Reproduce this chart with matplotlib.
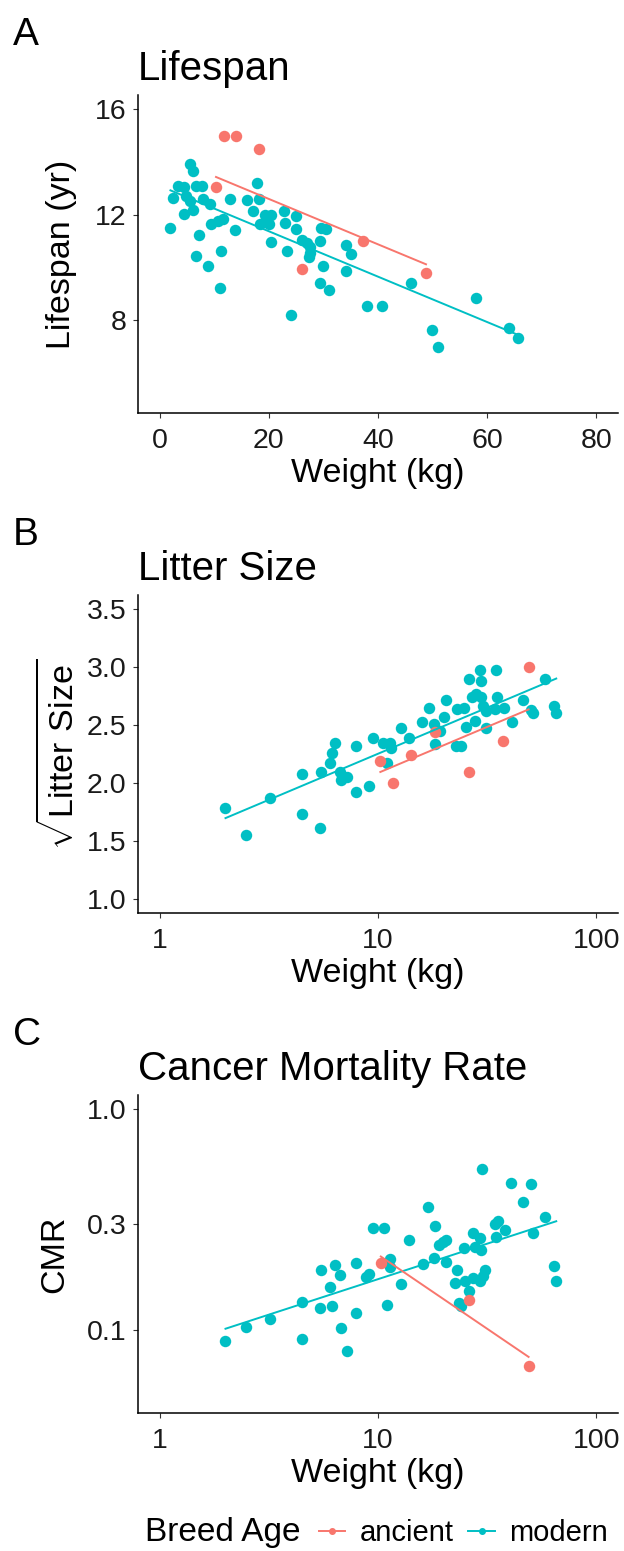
import numpy as np
import matplotlib
matplotlib.use('Agg')
import matplotlib.pyplot as plt
from matplotlib.lines import Line2D

plt.rcParams['font.family'] = ['Liberation Sans', 'DejaVu Sans']
plt.rcParams['mathtext.fontset'] = 'custom'
plt.rcParams['mathtext.rm'] = 'Liberation Sans'

RED = '#F8766D'
TEAL = '#00BFC4'

# --- A: lifespan vs weight ---
anc_wt = [10.3, 11.8, 14.0, 18.2, 26.0, 37.2, 48.8]
anc_life = [13.05, 15.0, 15.0, 14.5, 9.93, 11.0, 9.79]
mod_wt_a = [1.95, 2.44, 3.36, 4.4, 4.88, 4.4, 5.5, 6.04, 5.62, 6.1, 6.72, 7.82, 7.94,
            9.16, 7.14, 6.7, 8.8, 9.46, 10.7, 11.5, 11.0, 11.3, 12.8, 13.7, 15.9,
            17.1, 17.8, 18.2, 18.3, 19.3, 20.4, 20.0, 20.45, 22.7, 23.0, 23.3, 24.0,
            25.0, 25.0, 26.0, 26.9, 27.5, 27.6, 27.4, 29.4, 29.6, 30.5, 29.9, 29.4,
            31.0, 34.2, 35.1, 34.2, 38.0, 40.8, 46.0, 49.9, 51.0, 57.9, 64.0, 65.6]
mod_life = [11.49, 12.64, 13.08, 13.05, 12.7, 12.04, 13.94, 13.64, 12.5, 12.19, 13.08,
            13.08, 12.6, 12.42, 11.21, 10.44, 10.06, 11.66, 11.75, 11.84, 9.22, 10.6,
            12.6, 11.43, 12.57, 12.13, 13.2, 12.6, 11.66, 12.0, 11.97, 11.65, 10.95,
            12.14, 11.68, 10.63, 8.16, 11.96, 11.45, 11.03, 10.93, 10.76, 10.55, 10.4,
            10.98, 11.5, 11.45, 10.03, 9.4, 9.14, 10.86, 10.5, 9.85, 8.54, 8.54, 9.4,
            7.62, 6.98, 8.81, 7.7, 7.3]
# model lines (shared slope): slope, intercept
fit_anc_a = [-0.0863, 14.32]
fit_mod_a = [-0.0863, 13.09]

# --- B: sqrt litter size vs weight ---
anc_wt_b = [10.25, 11.7, 14.1, 18.2, 26.1, 37.4, 49.0]
anc_litter = [2.187, 1.997, 2.238, 2.443, 2.098, 2.365, 3.0]
mod_wt_b = [2.0, 2.49, 3.21, 4.49, 4.49, 5.4, 5.5, 6.0, 6.18, 6.33, 6.72, 6.74, 7.21,
            7.96, 7.9, 9.1, 9.49, 10.5, 11.3, 11.5, 11.0, 12.8, 13.9, 15.9, 17.1, 18.0,
            18.2, 19.3, 20.1, 20.4, 22.9, 22.7, 24.1, 24.9, 25.2, 26.1, 27.0, 27.7,
            28.2, 29.2, 29.7, 29.7, 30.3, 31.1, 31.3, 34.2, 34.6, 35.2, 38.0, 41.2,
            46.1, 50.4, 51.3, 58.0, 63.8, 65.6]
mod_litter = [1.787, 1.546, 1.871, 2.078, 1.733, 1.609, 2.098, 2.17, 2.256, 2.345, 2.092,
              2.029, 2.049, 2.322, 1.922, 1.971, 2.388, 2.342, 2.342, 2.302, 2.17, 2.471,
              2.388, 2.529, 2.647, 2.509, 2.336, 2.451, 2.572, 2.716, 2.638, 2.322, 2.322,
              2.652, 2.486, 2.897, 2.739, 2.532, 2.767, 2.98, 2.882, 2.739, 2.667, 2.624,
              2.471, 2.638, 2.98, 2.739, 2.644, 2.529, 2.716, 2.632, 2.603, 2.897, 2.667,
              2.603]

# --- C: cancer mortality rate vs weight ---
anc_wt_c = [10.3, 26.1, 49.0]
anc_cmr = [0.201, 0.136, 0.0685]
mod_wt_c = [2.0, 2.49, 3.21, 4.49, 4.49, 5.4, 5.5, 6.0, 6.18, 6.33, 6.72, 6.74, 7.21,
            7.96, 7.96, 8.84, 9.1, 9.49, 10.6, 11.3, 11.3, 11.0, 12.8, 13.9, 16.0, 17.0,
            18.2, 18.0, 19.1, 19.9, 20.6, 20.4, 23.0, 22.6, 23.5, 24.1, 24.9, 25.1, 26.1,
            27.2, 27.2, 27.7, 29.2, 29.7, 30.0, 29.2, 30.3, 30.8, 34.6, 34.2, 35.5, 38.4,
            40.9, 46.1, 50.4, 51.1, 58.0, 64.0, 65.6]
mod_cmr = [0.0895, 0.1035, 0.112, 0.1334, 0.0907, 0.1253, 0.1875, 0.156, 0.1288, 0.1976,
           0.178, 0.102, 0.0806, 0.2003, 0.1193, 0.1742, 0.179, 0.2884, 0.2884, 0.2096,
           0.1935, 0.13, 0.1615, 0.2563, 0.199, 0.36, 0.2965, 0.212, 0.243, 0.249, 0.255,
           0.202, 0.187, 0.1626, 0.132, 0.128, 0.235, 0.167, 0.1496, 0.275, 0.172, 0.2366,
           0.261, 0.23, 0.535, 0.166, 0.176, 0.186, 0.262, 0.30, 0.31, 0.283, 0.4627,
           0.378, 0.458, 0.274, 0.323, 0.195, 0.166]

W, H = 624, 1551
fig = plt.figure(figsize=(W / 100, H / 100), dpi=100)


def add_panel(top):
    left, right = 138, 618
    return fig.add_axes([left / W, 1 - (top + 318) / H, (right - left) / W, 318 / H])


def style(ax):
    for s in ['top', 'right']:
        ax.spines[s].set_visible(False)
    for s in ['left', 'bottom']:
        ax.spines[s].set_linewidth(1.1)
    ax.tick_params(length=3.5, width=0.8, color='#333333', labelsize=20.5, labelcolor='#1a1a1a')
    ax.tick_params(axis='x', pad=7)
    ax.tick_params(axis='y', pad=5)
    ax.minorticks_off()


def common_slope(xa, ya, xm, ym):
    # y ~ x + group (parallel lines)
    x = np.concatenate([xa, xm])
    y = np.concatenate([ya, ym])
    g = np.concatenate([np.ones(len(xa)), np.zeros(len(xm))])
    X = np.column_stack([np.ones_like(x), x, g])
    b = np.linalg.lstsq(X, y, rcond=None)[0]
    return (b[1], b[0] + b[2]), (b[1], b[0])


def draw(ax, xa, ya, xm, ym, fa, fm, tx, ty_inv):
    ax.scatter(xm, ym, s=68, color=TEAL, linewidths=0, zorder=2)
    ax.scatter(xa, ya, s=68, color=RED, linewidths=0, zorder=2)
    for xs, f, c in [(xm, fm, TEAL), (xa, fa, RED)]:
        t = np.linspace(min(tx(np.array(xs))), max(tx(np.array(xs))), 50)
        ax.plot(ty_inv[0](t), ty_inv[1](f[0] * t + f[1]), color=c, lw=1.4, zorder=3)


ident = lambda v: v
pow10 = lambda v: 10 ** v

# panel A
axA = add_panel(95)
draw(axA, anc_wt, anc_life, mod_wt_a, mod_life, fit_anc_a, fit_mod_a, ident, (ident, ident))
axA.set_xlim(-4, 84)
axA.set_ylim(4.45, 16.55)
axA.set_xticks([0, 20, 40, 60, 80])
axA.set_yticks([8, 12, 16])
style(axA)

# panel B
axB = add_panel(595)
axB.set_xscale('log')
fa, fm = common_slope(np.log10(anc_wt_b), anc_litter, np.log10(mod_wt_b), mod_litter)
draw(axB, anc_wt_b, anc_litter, mod_wt_b, mod_litter, fa, fm, np.log10, (pow10, ident))
axB.set_xlim(10 ** -0.1, 10 ** 2.1)
axB.set_ylim(0.875, 3.625)
axB.set_xticks([1, 10, 100], ['1', '10', '100'])
axB.set_yticks([1.0, 1.5, 2.0, 2.5, 3.0, 3.5], ['1.0', '1.5', '2.0', '2.5', '3.0', '3.5'])
style(axB)

# panel C (separate fits on log-log)
axC = add_panel(1095)
axC.set_xscale('log')
axC.set_yscale('log')
fa = np.polyfit(np.log10(anc_wt_c), np.log10(anc_cmr), 1)
fm = np.polyfit(np.log10(mod_wt_c), np.log10(mod_cmr), 1)
draw(axC, anc_wt_c, anc_cmr, mod_wt_c, mod_cmr, fa, fm, np.log10, (pow10, pow10))
axC.set_xlim(10 ** -0.1, 10 ** 2.1)
axC.set_ylim(10 ** -1.375, 10 ** 0.062)
axC.set_xticks([1, 10, 100], ['1', '10', '100'])
axC.set_yticks([0.1, 0.3, 1.0], ['0.1', '0.3', '1.0'])
style(axC)

# labels
for top, letter, title, ylab, ylx in [(95, 'A', 'Lifespan', 'Lifespan (yr)', 62),
                                      (595, 'B', 'Litter Size', r'$\sqrt{\mathrm{Litter\ Size}}$', 60),
                                      (1095, 'C', 'Cancer Mortality Rate', 'CMR', 55)]:
    fig.text(13 / W, 1 - (top - 50) / H, letter, fontsize=28, va='baseline', ha='left')
    fig.text(138 / W, 1 - (top - 15) / H, title, fontsize=29, va='baseline', ha='left')
    fig.text(378 / W, 1 - (top + 387) / H, 'Weight (kg)', fontsize=24.5, va='baseline', ha='center')
    fig.text(ylx / W, 1 - (top + 159) / H, ylab, fontsize=24.5, va='center', ha='center',
             rotation=90)

# legend
fig.text(145 / W, 1 - 1533 / H, 'Breed Age', fontsize=24, va='center', ha='left')
handles = [Line2D([0], [0], color=RED, marker='o', markersize=4, lw=1.4),
           Line2D([0], [0], color=TEAL, marker='o', markersize=4, lw=1.4)]
fig.legend(handles, ['ancient', 'modern'], ncol=2, loc='center left',
           bbox_to_anchor=(319 / W, 1 - 1533 / H), frameon=False, fontsize=21,
           handlelength=0.9, handletextpad=0.5, columnspacing=0.5,
           borderaxespad=0, borderpad=0)

fig.savefig('out.png', dpi=100)
